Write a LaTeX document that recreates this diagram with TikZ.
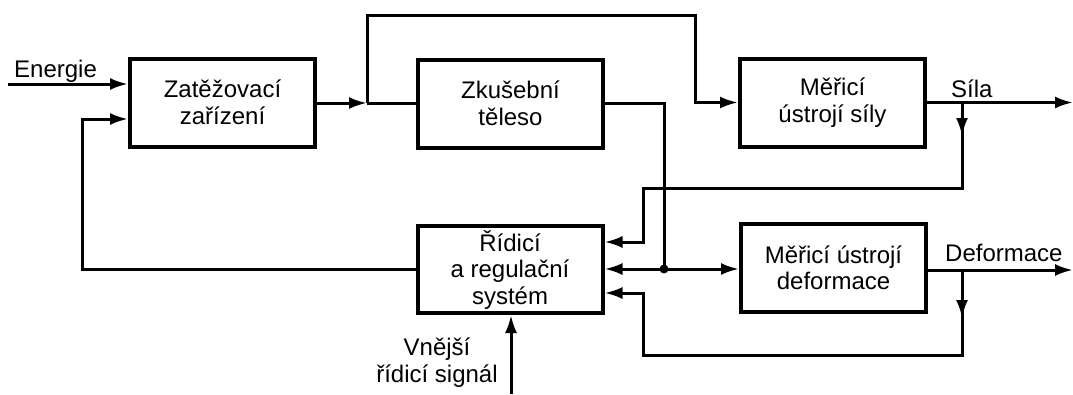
\documentclass[tikz,border=0pt]{standalone}
\usepackage{fontspec}
\setmainfont{Liberation Sans}
\usetikzlibrary{arrows.meta}
\begin{document}
\begin{tikzpicture}[x=1pt,y=-1pt,
  blk/.style={draw, line width=4pt, minimum width=185pt, minimum height=88pt, align=center, font=\fontsize{24}{26.5}\selectfont, inner sep=0pt},
  ln/.style={line width=3pt},
  arr/.style={ln, -{Latex[length=18pt,width=12pt]}},
  lbl/.style={font=\fontsize{24}{27}\selectfont, inner sep=0pt}]
\useasboundingbox (0,0) rectangle (1073,394);

\node[blk] (Z) at (222.5,102.5) {Zatěžovací\\zařízení};
\node[blk] (K) at (510.5,103.5) {Zkušební\\těleso};
\node[blk] (MS) at (832.5,102.5) {Měřicí\\ústrojí síly};
\node[blk, minimum height=87pt] (R) at (510,269.5) {Řídicí\\a regulační\\systém};
\node[blk] (MD) at (833.5,268) {Měřicí ústrojí\\deformace};

% Energie input
\coordinate (e0) at (8,84);
\draw[arr] (e0) -- (e0 -| Z.west);
\node[lbl, anchor=base west] (energ) at (14,77) {Energie};

% Z output and branching
\coordinate (j1) at (367,103);
\draw[arr] (Z.east |- j1) -- (j1);
\draw[ln] (j1) -- (K.west |- j1);
\coordinate (t2) at (695,15);
\draw[arr] (j1) -- (j1 |- t2) -- (t2) |- (MS.west);

% K output to junction
\coordinate (dot) at (664,269);
\draw[ln] (K.east) -| (dot);
\fill (dot) circle (4.5);
\draw[arr] (dot) -- (dot -| R.east);
\draw[arr] (dot) -- (dot -| MD.west);

% Sila output and feedback
\coordinate (sout) at (1073,102.5);
\draw[arr] (MS.east) -- (sout);
\node[lbl, anchor=base west] (sila) at (951,97) {Síla};
\coordinate (sb) at (962,102.5);
\coordinate (f1) at (643,188);
\coordinate (f2) at (643,242);
\draw[arr] (sb) |- (f1) -- (f2) -- (f2 -| R.east);
\draw[arr] (sb) -- (962,136);

% Deformace output and feedback
\coordinate (dout) at (1073,270);
\draw[arr] (MD.east |- dout) -- (dout);
\node[lbl, anchor=base west] (defo) at (945,261) {Deformace};
\coordinate (db) at (962,270);
\coordinate (g1) at (643,355);
\coordinate (g2) at (643,293);
\draw[arr] (db) |- (g1) -- (g2) -- (g2 -| R.east);
\draw[arr] (db) -- (962,318);

% R to Z feedback
\coordinate (c1) at (82,119);
\draw[arr] (R.west) -| (c1) -- (c1 -| Z.west);

% external control signal
\coordinate (x0) at (511,394);
\draw[arr] (x0) -- (x0 |- R.south);
\node[lbl, align=center, anchor=base] (ext) at (437,382) {Vnější\\řídicí signál};
\end{tikzpicture}
\end{document}
